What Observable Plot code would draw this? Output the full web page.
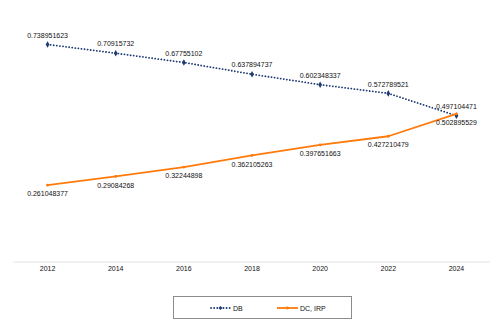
<!DOCTYPE html>
<html><head><meta charset="utf-8">
<script src="https://cdn.jsdelivr.net/npm/d3@7"></script>
<script src="https://cdn.jsdelivr.net/npm/@observablehq/plot@0.6"></script>
<style>
body{margin:0;background:#fff;font-family:"Liberation Sans",Arial,sans-serif;}
#wrap{position:relative;width:500px;height:326px;}
#legend{position:absolute;left:173px;top:296px;width:179px;height:23px;border:1px solid #8c8c8c;box-sizing:border-box;font-size:7px;color:#111;}
#legend .it{position:absolute;top:0;height:22px;display:flex;align-items:center;}
#legend svg{margin-right:2px}
</style></head>
<body><div id="wrap"><div id="chart"></div><div id="legend"></div></div>
<script>
const years = [2012, 2014, 2016, 2018, 2020, 2022, 2024];
const dbValues = [0.738951623, 0.70915732, 0.67755102, 0.637894737, 0.602348337, 0.572789521, 0.497104471];
const dcValues = [0.261048377, 0.29084268, 0.32244898, 0.362105263, 0.397651663, 0.427210479, 0.502895529];
const seriesNames = ["DB", "DC, IRP"];

const db = years.map((y, i) => ({year: y, v: dbValues[i]}));
const dc = years.map((y, i) => ({year: y, v: dcValues[i]}));
const navy = "#1f3b73", orange = "#ff7a0a";

const chart = Plot.plot({
  width: 500, height: 290,
  marginLeft: 13, marginRight: 10, marginTop: 26, marginBottom: 28.5,
  style: {fontFamily: "Liberation Sans, Arial, sans-serif", fontSize: "7px", color: "#111"},
  x: {domain: [2011, 2025], ticks: years, tickFormat: d => String(d), tickSize: 0, tickPadding: 4, label: null},
  y: {domain: [0, 0.8], axis: null},
  marks: [
    Plot.ruleY([0], {stroke: "#e2e2e2", strokeWidth: 1}),
    Plot.line(db, {x: "year", y: "v", stroke: navy, strokeWidth: 1.8, strokeDasharray: "0.1,3", strokeLinecap: "round"}),
    Plot.dot(db, {x: "year", y: "v", symbol: "diamond", r: 2, fill: navy}),
    Plot.line(dc, {x: "year", y: "v", stroke: orange, strokeWidth: 1.8}),
    Plot.dot(dc, {x: "year", y: "v", r: 1.4, fill: orange}),
    Plot.text(db, {x: "year", y: "v", text: d => String(d.v), dy: -9, fill: "#111", fontSize: 7}),
    Plot.text(dc, {x: "year", y: "v", text: d => String(d.v), dy: 9, fill: "#111", fontSize: 7})
  ]
});
document.getElementById("chart").appendChild(chart);

const leg = document.getElementById("legend");
leg.innerHTML =
  `<div class="it" style="left:36px"><svg width="21" height="6"><line x1="1" y1="3" x2="20" y2="3" stroke="${navy}" stroke-width="1.8" stroke-dasharray="0.1,3" stroke-linecap="round"/><path d="M10.5 1 L12.5 3 L10.5 5 L8.5 3Z" fill="${navy}"/></svg>${seriesNames[0]}</div>` +
  `<div class="it" style="left:103px"><svg width="21" height="6"><line x1="0" y1="3" x2="21" y2="3" stroke="${orange}" stroke-width="1.8"/><circle cx="10.5" cy="3" r="1.4" fill="${orange}"/></svg>${seriesNames[1]}</div>`;
</script></body></html>
